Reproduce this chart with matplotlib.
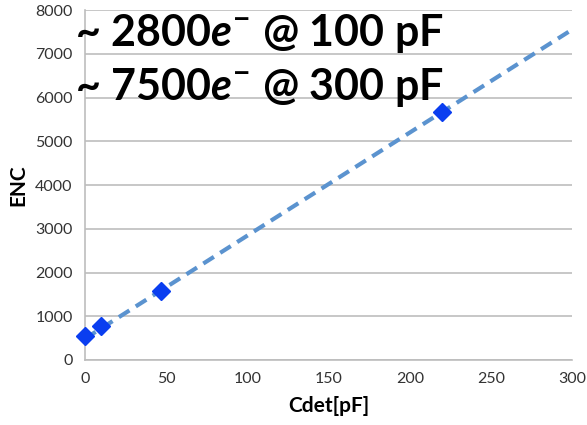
import matplotlib
matplotlib.use('Agg')
from matplotlib import pyplot as plt

# data
cdet = [0, 10, 47, 220]
enc = [550, 780, 1570, 5680]
trend_x = [0, 300]
trend_y = [490, 7560]
x_ticks = [0, 50, 100, 150, 200, 250, 300]
y_ticks = [0, 1000, 2000, 3000, 4000, 5000, 6000, 7000, 8000]
notes = [r'~ 2800$e^{-}$ @ 100 pF', r'~ 7500$e^{-}$ @ 300 pF']

plt.rcParams['font.family'] = ['Lato', 'DejaVu Sans']
plt.rcParams['mathtext.fontset'] = 'custom'
plt.rcParams['mathtext.it'] = 'Lato:italic:bold'
plt.rcParams['mathtext.rm'] = 'Lato:bold'

fig = plt.figure(figsize=(5.87, 4.25), dpi=100)
ax = fig.add_axes([0.145, 0.153, 0.83, 0.823])

ax.plot(trend_x, trend_y, ls=(0, (3, 1.8)), c='#5b93cf', lw=3, zorder=2)
ax.plot(cdet, enc, ls='none', marker='D', ms=9, c='#0a3ef0', zorder=3, clip_on=False)

ax.set_xlim(0, 300)
ax.set_ylim(0, 8000)
ax.set_xticks(x_ticks)
ax.set_yticks(y_ticks)
ax.grid(axis='y', color='#bdbdbd', lw=1.2)
ax.set_axisbelow(True)
for s in ['top', 'right']:
    ax.spines[s].set_visible(False)
for s in ['left', 'bottom']:
    ax.spines[s].set_color('#bdbdbd')
    ax.spines[s].set_linewidth(1.2)
ax.tick_params(axis='both', length=0, labelsize=11.5, colors='#333333', pad=9)

ax.set_xlabel('Cdet[pF]', fontsize=15, fontweight='bold', labelpad=7)
ax.set_ylabel('ENC', fontsize=15, fontweight='bold', labelpad=5)

for i, t in enumerate(notes):
    fig.text(0.128, 0.922 - i * 0.127, t, fontsize=31, fontweight='bold',
             va='center', ha='left', color='black')

plt.savefig('out.png')
